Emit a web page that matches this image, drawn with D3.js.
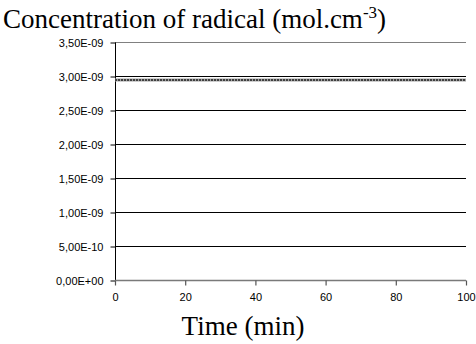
<!DOCTYPE html>
<html><head><meta charset="utf-8">
<script src="https://cdn.jsdelivr.net/npm/d3@7"></script>
<style>body{margin:0;background:#fff}svg{display:block}</style>
</head><body>
<svg id="c" width="476" height="344"></svg>
<script>
const times = [0, 10, 20, 30, 40, 50, 60, 70, 80, 90, 100];
const radical = [2.94e-9, 2.94e-9, 2.94e-9, 2.94e-9, 2.94e-9, 2.94e-9, 2.94e-9, 2.94e-9, 2.94e-9, 2.94e-9, 2.94e-9];
const yTicks = [0, 0.5e-9, 1.0e-9, 1.5e-9, 2.0e-9, 2.5e-9, 3.0e-9, 3.5e-9];
const yTickLabels = ["0,00E+00","5,00E-10","1,00E-09","1,50E-09","2,00E-09","2,50E-09","3,00E-09","3,50E-09"];
const xTicks = [0, 20, 40, 60, 80, 100];

const svg = d3.select("#c");
const L = 115, R = 466, T = 42, B = 280;
const x = d3.scaleLinear().domain([0, 100]).range([L, R]);
const y = d3.scaleLinear().domain([0, 3.5e-9]).range([B, T]);
const serif = "'Liberation Serif', 'Times New Roman', serif";
const sans = "'Liberation Sans', Arial, sans-serif";

// gridlines
svg.append("g").selectAll("line").data(yTicks.slice(1, -1)).join("line")
  .attr("x1", L).attr("x2", R).attr("y1", d => Math.round(y(d)) + 0.5).attr("y2", d => Math.round(y(d)) + 0.5)
  .attr("stroke", "#000").attr("stroke-width", 1);
// top border line
svg.append("line").attr("x1", L).attr("x2", R).attr("y1", Math.round(y(3.5e-9)) + 0.5).attr("y2", Math.round(y(3.5e-9)) + 0.5)
  .attr("stroke", "#808080").attr("stroke-width", 1);

// y axis
const yAxis = d3.axisLeft(y).tickValues(yTicks).tickSize(5).tickPadding(7)
  .tickFormat((d, i) => yTickLabels[i]);
const gy = svg.append("g").attr("transform", `translate(${L + 0.5},0.5)`).call(yAxis);
gy.select(".domain").attr("stroke", "#000").attr("d", `M0,${T}V${B}`);
gy.selectAll(".tick line").attr("stroke", "#000");
gy.selectAll(".tick text").attr("font-family", sans).attr("font-size", 11).attr("fill", "#000");

// x axis
const xAxis = d3.axisBottom(x).tickValues(xTicks).tickSize(5).tickPadding(8).tickFormat(d3.format("d"));
const gx = svg.append("g").attr("transform", `translate(0,${B + 0.5})`).call(xAxis);
gx.select(".domain").attr("stroke", "#7a7a7a").attr("stroke-width", 1.6).attr("d", `M${L},0H${R}`);
gx.selectAll(".tick line").attr("stroke", "#555").attr("stroke-width", 1.2);
gx.selectAll(".tick text").attr("font-family", sans).attr("font-size", 11).attr("fill", "#000");

// data line
const line = d3.line().x((d, i) => x(times[i])).y(d => y(d));
svg.append("path").datum(radical).attr("d", line).attr("fill", "none")
  .attr("stroke", "#a0a0a0").attr("stroke-width", 3);
svg.append("path").datum(radical).attr("d", line).attr("fill", "none")
  .attr("stroke", "#202020").attr("stroke-width", 1.5).attr("stroke-dasharray", "2,1");

// title
const title = svg.append("text").attr("x", 3).attr("y", 28)
  .attr("font-family", serif).attr("font-size", 27).attr("fill", "#000");
title.append("tspan").text("Concentration of radical (mol.cm");
title.append("tspan").attr("dy", -10).attr("font-size", 17).text("-3");
title.append("tspan").attr("dy", 10).text(")");

// x label
svg.append("text").attr("x", 243).attr("y", 335).attr("text-anchor", "middle")
  .attr("font-family", serif).attr("font-size", 27).attr("fill", "#000")
  .text("Time (min)");
</script>
</body></html>
